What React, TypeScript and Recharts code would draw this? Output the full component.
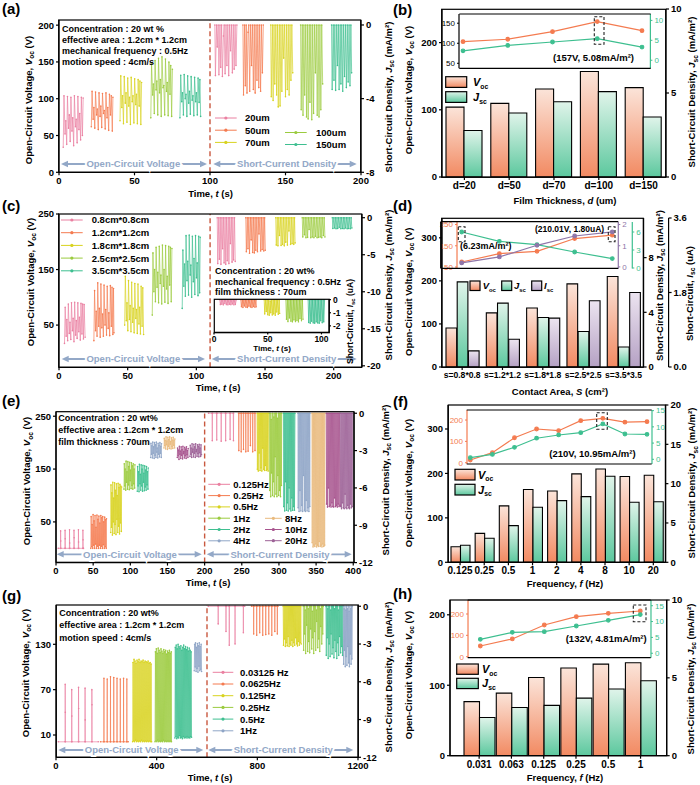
import React from 'react';
import { ComposedChart, LineChart, BarChart, Line, Bar, XAxis, YAxis, ReferenceLine } from 'recharts';

type P = [number, number];
type Box = { l: number; r: number; t: number; b: number };

const PINK = '#ea80a1';
const ORANGE = '#f47b50';
const YELLOW = '#d8d31f';
const GREEN = '#9bcb3f';
const TEAL = '#3ebf90';
const BLUE = '#8fa5c6';
const TAN = '#e9ba7d';
const PLUM = '#a8548e';
const MAUVE = '#9d6297';
const LILAC = '#8f76a9';
const SPLIT = '#c9583f';
const ARROW = '#93a8c7';

// ---------- (a) film thickness: time traces [t (s), value]
const aV20: P[] = [[2.8,34],[3.3,104],[4,52],[4.5,70],[5.1,38],[5.6,103],[6.3,60],[6.8,78],[7.4,42],[7.9,102],[8.6,56],[9.1,74],[9.7,36],[10.2,104],[10.9,62],[11.4,72],[12,40],[12.5,103],[13.2,58],[13.7,80],[14.3,44],[14.8,102],[15.5,50],[16,101]];
const aV50: P[] = [[21.4,62],[21.9,110],[22.6,72],[23.1,88],[23.7,60],[24.2,109],[24.9,78],[25.4,86],[26,58],[26.5,108],[27.2,76],[27.7,90],[28.3,61],[28.8,107],[29.5,80],[30,84],[30.6,59],[31.1,108],[31.8,74],[32.3,88],[32.9,57],[33.4,106],[34.1,78],[34.6,104],[35.3,56],[35.7,102]];
const aV70: P[] = [[40.4,70],[40.9,131],[41.6,88],[42.1,104],[42.7,66],[43.2,130],[43.9,94],[44.4,108],[45,68],[45.5,128],[46.2,90],[46.7,102],[47.3,65],[47.8,129],[48.5,96],[49,104],[49.6,67],[50.1,127],[50.8,92],[51.3,106],[51.9,66],[52.4,126],[53.1,90],[53.6,124],[54.2,65],[54.7,122]];
const aV100: P[] = [[60.8,74],[61.3,148],[62,105],[62.5,120],[63.1,80],[63.6,152],[64.3,112],[64.8,124],[65.4,78],[65.9,155],[66.6,108],[67.1,126],[67.7,76],[68.2,157],[68.9,115],[69.4,118],[70,78],[70.5,154],[71.2,110],[71.7,122],[72.3,77],[72.8,150],[73.5,106],[74,145],[74.6,76],[75.1,140]];
const aV150: P[] = [[80.1,74],[80.6,132],[81.3,96],[81.8,108],[82.4,78],[82.9,133],[83.6,100],[84.1,106],[84.7,76],[85.2,131],[85.9,94],[86.4,110],[87,79],[87.5,130],[88.2,98],[88.7,104],[89.3,77],[89.8,129],[90.5,96],[91,108],[91.6,78],[92.1,128],[92.8,95],[93.3,126],[93.8,76]];
const aJ20: P[] = [[103.2,0],[103.6,-2.75],[104.3,0],[104.8,-1.2],[105.4,0],[105.9,-2.7],[106.6,0],[107.1,-2.3],[107.7,0],[108.2,-2.8],[108.9,-0.6],[109.4,0],[110,-2.65],[110.6,0],[111.2,-2.2],[111.8,0],[112.4,-2.75],[113,0],[113.6,-1.4],[114.2,0],[114.8,-2.6],[115.4,0],[116,-2.4],[116.6,0],[117.2,-2.2],[117.8,0]];
const aJ50: P[] = [[121.8,0],[122.2,-3.8],[122.9,0],[123.4,-3.3],[124,0],[124.5,-3.7],[125.2,-0.4],[125.7,0],[126.3,-3.6],[126.9,0],[127.5,-2.2],[128.1,0],[128.7,-3.5],[129.3,0],[129.9,-3.7],[130.5,0],[131.1,-3],[131.7,0],[132.3,-3.4],[132.9,0],[133.5,-3.6],[134.1,0],[134.7,-2.6],[135.3,0]];
const aJ70: P[] = [[140.2,0],[140.6,-3.9],[141.3,0],[141.8,-4.1],[142.4,0],[142.9,-3.2],[143.6,0],[144.1,-3.8],[144.7,0],[145.2,-4.45],[145.9,0],[146.4,-4.4],[147,0],[147.6,-3.6],[148.2,0],[148.8,-1.8],[149.4,0],[150,-3.9],[150.6,0],[151.2,-3.5],[151.8,0],[152.4,-3.8],[153,0],[153.6,-3],[154.2,0],[154.8,-2.6]];
const aJ100: P[] = [[160,0],[160.4,-4.6],[161.1,0],[161.6,-4.9],[162.2,0],[162.7,-3.8],[163.4,0],[163.9,-5],[164.5,0],[165,-5.1],[165.7,0],[166.2,-4.2],[166.8,0],[167.4,-5.15],[168,0],[168.6,-4.8],[169.2,0],[169.8,-2.6],[170.4,0],[171,-4.9],[171.6,0],[172.2,-5],[172.8,0],[173.4,-4.6],[174,0],[174.6,-3.2]];
const aJ150: P[] = [[180.5,0],[180.9,-3.5],[181.6,0],[182.1,-3],[182.7,0],[183.2,-3.55],[183.9,0],[184.4,-2.2],[185,0],[185.5,-3.5],[186.2,0],[186.7,-3.2],[187.3,0],[187.9,-3.6],[188.5,0],[189.1,-2.8],[189.7,0],[190.3,-3.4],[190.9,0],[191.5,-3.1],[192.1,0],[192.7,-3.3],[193.3,0],[193.8,-2.6]];
const aLabels = ['20um', '50um', '70um', '100um', '150um'];

// ---------- (b) film thickness summary
const thickness = ['d=20', 'd=50', 'd=70', 'd=100', 'd=150'];
const bVoc = [104, 109.5, 131, 157, 133];
const bJsc = [2.77, 3.81, 4.48, 5.08, 3.57];
const bInsetVoc = [104, 110, 129, 154, 131.5];
const bInsetJsc = [2.37, 3.72, 4.58, 5.42, 3.31];

// ---------- (c) contact area: time traces
const cV08: P[] = [[4,17],[4.5,82],[5.2,30],[5.7,60],[6.3,22],[6.8,88],[7.5,35],[8,55],[8.6,24],[9.1,90],[9.8,40],[10.3,62],[10.9,20],[11.4,91],[12.1,32],[12.6,58],[13.2,26],[13.7,90],[14.4,38],[14.9,64],[15.5,23],[16,89],[16.7,34],[17.2,88],[17.8,25],[18.3,87],[19,28]];
const cV12: P[] = [[25.4,22],[25.9,112],[26.6,40],[27.1,75],[27.7,30],[28.2,126],[28.9,48],[29.4,80],[30,28],[30.5,124],[31.2,45],[31.7,70],[32.3,30],[32.8,122],[33.5,50],[34,78],[34.6,32],[35.1,120],[35.8,44],[36.3,72],[36.9,31],[37.4,121],[38.1,48],[38.6,118],[39.2,33],[39.7,116],[40,36]];
const cV18: P[] = [[47.8,50],[48.3,138],[49,58],[49.5,90],[50.1,40],[50.6,130],[51.3,60],[51.8,85],[52.4,38],[52.9,127],[53.6,55],[54.1,80],[54.7,36],[55.2,125],[55.9,62],[56.4,78],[57,35],[57.5,124],[58.2,52],[58.7,82],[59.3,34],[59.8,120],[60.5,48],[61,117],[61.6,33]];
const cV25: P[] = [[67.9,68],[68.4,180],[69.1,110],[69.6,150],[70.2,92],[70.7,190],[71.4,118],[71.9,145],[72.5,90],[73,192],[73.7,125],[74.2,140],[74.8,88],[75.3,194],[76,120],[76.5,150],[77.1,91],[77.6,193],[78.3,115],[78.8,138],[79.4,89],[79.9,192],[80.6,122],[81.1,190],[81.7,92],[82.2,188]];
const cV35: P[] = [[89.7,80],[90.2,185],[90.9,120],[91.4,160],[92,102],[92.5,211],[93.2,130],[93.7,165],[94.3,104],[94.8,212],[95.5,140],[96,158],[96.6,100],[97.1,210],[97.8,128],[98.3,170],[98.9,105],[99.4,211],[100.1,135],[100.6,162],[101.2,103],[101.7,210],[102.4,108],[102.8,208]];
const cJ08: P[] = [[115.2,0],[115.6,-6.2],[116.3,0],[116.8,-5.6],[117.4,0],[117.9,-6.3],[118.6,0],[119.1,-4.2],[119.7,0],[120.2,-6.1],[120.9,0],[121.4,-6.3],[122,0],[122.5,-5.8],[123.2,0],[123.7,-6.2],[124.3,0],[124.8,-3.5],[125.5,0],[126,-6],[126.6,0],[127.1,-5.7],[127.8,0],[128.3,-5.9]];
const cJ12: P[] = [[136,0],[136.4,-4.6],[137.1,0],[137.6,-4.2],[138.2,0],[138.7,-4.8],[139.4,0],[139.9,-3],[140.5,0],[141,-4.7],[141.7,0],[142.2,-4.75],[142.8,0],[143.3,-4.4],[144,0],[144.5,-4.6],[145.1,0],[145.6,-2.2],[146.3,0],[146.8,-4.5],[147.4,0],[147.9,-4.3],[148.6,0],[149.1,-4.5],[149.7,0],[150.2,-4.4]];
const cJ18: P[] = [[157.8,0],[158.2,-3.7],[158.9,0],[159.4,-3.8],[160,0],[160.5,-2.4],[161.2,0],[161.7,-3.75],[162.3,0],[162.8,-3.6],[163.5,0],[164,-3.8],[164.6,0],[165.1,-3.3],[165.8,0],[166.3,-3.7],[166.9,0],[167.4,-1.8],[168.1,0],[168.6,-3.6],[169.2,0],[169.7,-3.5],[170.4,0],[170.9,-3.6],[171.5,0],[171.9,-3.4]];
const cJ25: P[] = [[177.1,0],[177.5,-2.6],[178.2,0],[178.7,-2.3],[179.3,0],[179.8,-2.7],[180.5,0],[181,-2.65],[181.6,0],[182.1,-1.6],[182.8,0],[183.3,-2.7],[183.9,0],[184.4,-2.6],[185.1,0],[185.6,-2.7],[186.2,0],[186.7,-2.5],[187.4,0],[187.9,-2.7],[188.5,0],[189,-2.65],[189.7,0],[190.2,-2.6],[190.8,0],[191.3,-2.7],[192,0],[192.5,-2.4],[193.1,0],[193.6,-2.6]];
const cJ35: P[] = [[199,0],[199.4,-1.45],[200.1,0],[200.6,-1.4],[201.2,0],[201.7,-1.5],[202.4,0],[202.9,-1.45],[203.5,0],[204,-1.3],[204.7,0],[205.2,-1.5],[205.8,0],[206.3,-1.45],[207,0],[207.5,-1.5],[208.1,0],[208.6,-1.4],[209.3,0],[209.8,-1.5],[210.4,0],[210.9,-1.45],[211.6,0],[212.1,-1.5],[212.7,0],[213.2,-1.4]];
const cI08: P[] = [[5.4,0],[5.9,-0.38],[6.8,0],[7.3,-0.35],[8.2,0],[8.7,-0.4],[9.6,0],[10.1,-0.3],[11,0],[11.5,-0.38],[12.4,0],[12.9,-0.4],[13.8,0],[14.3,-0.36],[15.2,0],[15.7,-0.39],[16.6,0],[17.1,-0.33],[18,0],[18.5,-0.4],[19.4,0],[19.9,-0.37],[20.7,0]];
const cI12: P[] = [[25,0],[25.5,-0.55],[26.4,0],[26.9,-0.6],[27.8,0],[28.3,-0.48],[29.2,0],[29.7,-0.58],[30.6,0],[31.1,-0.6],[32,0],[32.5,-0.5],[33.4,0],[33.9,-0.57],[34.8,0],[35.3,-0.6],[36.2,0],[36.7,-0.52],[37.6,0],[38.1,-0.58],[39,0],[39.4,-0.55]];
const cI18: P[] = [[46.7,0],[47.2,-1.1],[48.1,0],[48.6,-0.9],[49.5,0],[50,-1.15],[50.9,0],[51.4,-1.2],[52.3,-0.1],[52.8,-1],[53.7,0],[54.2,-1.18],[55.1,0],[55.6,-1.1],[56.5,0],[57,-1.2],[57.9,0],[58.4,-0.95],[59.3,0],[59.8,-1.12],[60.7,0],[61.1,-1.05]];
const cI25: P[] = [[66.9,0],[67.4,-1.5],[68.3,0],[68.8,-1.68],[69.7,0],[70.2,-1.4],[71.1,0],[71.6,-1.65],[72.5,0],[73,-1.7],[73.9,0],[74.4,-1.55],[75.3,0],[75.8,-1.68],[76.7,0],[77.2,-1.6],[78.1,0],[78.6,-1.7],[79.5,0],[80,-1.45],[80.9,0],[81.4,-1.62],[82.3,0],[82.8,-1.5]];
const cI35: P[] = [[87.6,0],[88.1,-1.75],[89,0],[89.5,-1.8],[90.4,0],[90.9,-1.65],[91.8,0],[92.3,-1.78],[93.2,0],[93.7,-1.8],[94.6,0],[95.1,-1.7],[96,0],[96.5,-1.78],[97.4,0],[97.9,-1.8],[98.8,0],[99.3,-1.62],[100.2,0],[100.7,-1.76],[101.6,0],[102.1,-1.7],[102.9,0]];
const cLabels = ['0.8cm*0.8cm', '1.2cm*1.2cm', '1.8cm*1.8cm', '2.5cm*2.5cm', '3.5cm*3.5cm'];

// ---------- (d) contact area summary
const areas = ['s=0.8*0.8', 's=1.2*1.2', 's=1.8*1.8', 's=2.5*2.5', 's=3.5*3.5'];
const dVoc = [90.7, 125.6, 137, 193, 210];
const dJsc = [6.23, 4.67, 3.62, 2.6, 1.46];
const dIsc = [0.39, 0.67, 1.18, 1.6, 1.8];
const dInsetVoc = [73.6, 113, 124, 184, 200];
const dInsetJsc = [6.0, 4.45, 3.9, 2.67, 1.57];
const dInsetIsc = [0.19, 0.47, 1.02, 1.46, 1.65];

// ---------- (e) mechanical frequency: time traces
const eV0125: P[] = [[3,0],[6,0],[6.2,33],[6.4,14],[6.6,0],[12,0],[12.2,34],[12.4,18],[12.6,0],[18,0],[18.2,35],[18.4,10],[18.6,0],[24,0],[24.2,34],[24.4,20],[24.6,0],[30,0],[30.2,35],[30.4,12],[30.6,0],[36,0],[36.2,34],[36.4,16],[36.6,0],[37,0]];
const eV025: P[] = [[46.8,0],[47.3,60],[48.1,3],[48.6,45],[49.4,0],[49.9,64],[50.7,6],[51.2,52],[52,0],[52.5,62],[53.3,8],[53.8,40],[54.6,0],[55.1,63],[55.9,4],[56.4,55],[57.2,0],[57.7,61],[58.5,6],[59,48],[59.8,0],[60.3,62],[61.1,4],[61.6,58],[62.4,0],[62.9,60],[63.7,7],[64.2,50],[65,0],[65.5,59],[66.3,3],[66.8,54],[67.6,0],[67.9,56]];
const eV05: P[] = [[73.6,30],[74,120],[74.7,40],[75.2,105],[75.9,25],[76.4,125],[77.1,50],[77.6,95],[78.3,28],[78.8,124],[79.5,45],[80,110],[80.7,26],[81.2,122],[81.9,55],[82.4,100],[83.1,30],[83.6,123],[84.3,42],[84.8,115],[85.5,27],[86,121],[86.7,48],[87.2,118],[87.9,32],[88.3,116]];
const eV1: P[] = [[91.5,112],[91.9,160],[92.6,118],[93.1,150],[93.8,110],[94.3,165],[95,125],[95.5,145],[96.2,112],[96.7,164],[97.4,120],[97.9,155],[98.6,111],[99.1,163],[99.8,128],[100.3,148],[101,113],[101.5,162],[102.2,119],[102.7,156],[103.4,112],[103.9,160],[104.6,122],[105.1,150],[105.8,114],[106.2,158]];
const eV2: P[] = [[109.4,108],[109.8,155],[110.5,118],[111,145],[111.7,107],[112.2,159],[112.9,122],[113.4,140],[114.1,110],[114.6,158],[115.3,118],[115.8,150],[116.5,108],[117,157],[117.7,125],[118.2,142],[118.9,109],[119.4,156],[120.1,116],[120.6,148],[121.3,110],[121.8,155],[122.5,120],[123,145],[123.7,112],[124.1,152]];
const eV4: P[] = [[127.4,172],[127.8,199],[128.5,178],[129,194],[129.7,171],[130.2,201],[130.9,180],[131.4,192],[132.1,170],[132.6,200],[133.3,176],[133.8,196],[134.5,172],[135,201],[135.7,182],[136.2,190],[136.9,171],[137.4,199],[138.1,178],[138.6,195],[139.3,173],[139.8,200],[140.5,180],[141,193],[141.7,172],[142,198]];
const eV8: P[] = [[145.3,190],[145.7,208],[146.4,194],[146.9,204],[147.6,188],[148.1,211],[148.8,196],[149.3,203],[150,187],[150.5,210],[151.2,193],[151.7,206],[152.4,189],[152.9,211],[153.6,197],[154.1,202],[154.8,188],[155.3,209],[156,192],[156.5,205],[157.2,189],[157.7,210],[158.4,195],[158.9,204],[159.6,190],[159.9,207]];
const eV10: P[] = [[163.2,172],[163.6,190],[164.3,175],[164.8,186],[165.5,168],[166,193],[166.7,178],[167.2,184],[167.9,170],[168.4,192],[169.1,176],[169.6,187],[170.3,169],[170.8,193],[171.5,179],[172,183],[172.7,171],[173.2,191],[173.9,175],[174.4,188],[175.1,170],[175.6,192],[176.3,177],[176.8,185],[177.5,172],[177.9,189]];
const eV20: P[] = [[180.3,174],[180.7,195],[181.4,178],[181.9,190],[182.6,172],[183.1,198],[183.8,182],[184.3,188],[185,173],[185.5,197],[186.2,180],[186.7,192],[187.4,172],[187.9,198],[188.6,183],[189.1,187],[189.8,174],[190.3,196],[191,179],[191.5,193],[192.2,173],[192.7,197],[193.4,181],[193.9,190],[194.6,174],[195.1,196],[195.8,177]];
const eJ0125: P[] = [[205.2,0],[210,0],[210.3,-2.2],[210.6,0],[216,0],[216.3,-2.15],[216.6,0],[222,0],[222.3,-2.25],[222.6,0],[228,0],[228.3,-2.2],[228.6,0],[234,0],[234.3,-2.1],[234.6,0],[238.5,0],[238.8,-2.2],[239,0]];
const eJ025: P[] = [[245.6,0],[246,-3],[246.4,0],[248.8,0],[249.2,-3.1],[249.6,0],[251.9,0],[252.3,-2.9],[252.7,0],[255,0],[255.4,-3.1],[255.8,0],[258.1,0],[258.5,-3.05],[258.9,0],[261.2,0],[261.6,-2.6],[262,0],[264.3,0],[264.7,-3.1],[265.1,0],[267.4,0],[267.8,-3],[268,0]];
const eJ05: P[] = [[270.6,0],[271,-4.5],[271.7,0],[272.2,-4.65],[272.9,0],[273.4,-3.2],[274.1,0],[274.6,-4.6],[275.3,0],[275.8,-4.4],[276.5,0],[277,-4.65],[277.7,0],[278.2,-2.8],[278.9,0],[279.4,-4.5],[280.1,0],[280.6,-4.6],[281.3,0],[281.8,-4.2],[282.5,0],[283,-4.6],[283.7,0],[284.2,-4.5],[284.9,0],[285.4,-4.65],[286,0]];
const eJ1: P[] = [[287.3,0],[287.7,-6.2],[288.4,0],[288.9,-6.7],[289.6,-0.5],[290.1,-4.8],[290.8,0],[291.3,-6.6],[292,0],[292.5,-5.5],[293.2,-0.3],[293.7,-6.7],[294.4,0],[294.9,-3.5],[295.6,0],[296.1,-6.5],[296.8,0],[297.3,-6.7],[298,-0.4],[298.5,-5],[299.2,0],[299.7,-6.6],[300.4,0],[300.9,-6.2],[301.6,0],[302.1,-6.7],[302.8,0],[303.3,-5.8],[303.8,0]];
const eJ2: P[] = [[306.1,0],[306.5,-7.5],[307.2,0],[307.7,-7.86],[308.4,0],[308.9,-5.5],[309.6,0],[310.1,-7.8],[310.8,0],[311.3,-7.2],[312,0],[312.5,-7.86],[313.2,0],[313.7,-6],[314.4,0],[314.9,-7.7],[315.6,0],[316.1,-7.86],[316.8,0],[317.3,-6.8],[318,0],[318.5,-7.8],[319.2,0],[319.7,-7.5],[320.4,0],[320.9,-7.8],[321.6,0]];
const eJ4: P[] = [[325.5,0],[325.9,-7.6],[326.6,0],[327.1,-7.9],[327.8,0],[328.3,-6.2],[329,0],[329.5,-7.85],[330.2,0],[330.7,-7.4],[331.4,0],[331.9,-7.9],[332.6,0],[333.1,-5],[333.8,0],[334.3,-7.8],[335,0],[335.5,-7.9],[336.2,0],[336.7,-7],[337.4,0],[337.9,-7.85],[338.6,0],[339.1,-7.6],[339.8,0],[340.3,-7.9],[341,0],[341.5,-7.5],[341.9,0]];
const eJ8: P[] = [[344.3,0],[344.7,-10.4],[345.4,0],[345.9,-10.75],[346.6,0],[347.1,-10.6],[347.8,0],[348.3,-10.7],[349,0],[349.5,-10.5],[350.2,0],[350.7,-10.75],[351.4,0],[351.9,-10.6],[352.6,0],[353.1,-10.7],[353.8,0],[354.3,-10.3],[355,0],[355.5,-10.7],[356.2,0],[356.7,-10.6],[357.4,0],[357.9,-10.75],[358.6,0],[359.1,-10.5],[359.8,0],[360.3,-10.7],[361,0],[361.5,-10.6],[362.1,0]];
const eJ10: P[] = [[363.7,0],[364.1,-7.3],[364.8,0],[365.3,-7.54],[366,0],[366.5,-6],[367.2,0],[367.7,-7.5],[368.4,0],[368.9,-7.4],[369.6,0],[370.1,-7.54],[370.8,0],[371.3,-7.2],[372,0],[372.5,-7.5],[373.2,0],[373.7,-7.54],[374.4,0],[374.9,-6.8],[375.6,0],[376.1,-7.5],[376.8,0],[377.3,-7.4],[378,0],[378.5,-7.54],[379.2,0],[379.7,-7.3],[380.4,0],[380.9,-7.5],[381.6,0],[382.1,-7.4]];
const eJ20: P[] = [[382.6,0],[383,-7.5],[383.7,0],[384.2,-7.67],[384.9,0],[385.4,-7.2],[386.1,0],[386.6,-7.6],[387.3,0],[387.8,-7.67],[388.5,0],[389,-6.5],[389.7,0],[390.2,-7.6],[390.9,0],[391.4,-7.67],[392.1,0],[392.6,-7.4],[393.3,0],[393.8,-7.6],[394.5,0],[395,-7.67],[395.7,0],[396.2,-7.3],[396.9,0],[397.4,-7.6],[398.1,0],[398.6,-7.5],[399.3,0]];
const eLabels = ['0.125Hz', '0.25Hz', '0.5Hz', '1Hz', '2Hz', '4Hz', '8Hz', '10Hz', '20Hz'];

// ---------- (f) mechanical frequency summary
const freqs = ['0.125', '0.25', '0.5', '1', '2', '4', '8', '10', '20'];
const fVoc = [35, 65, 127, 164, 160.6, 199, 210, 193, 196];
const fJsc = [2.16, 3.05, 4.66, 7.0, 7.84, 8.35, 10.95, 7.63, 7.7];
const fInsetVoc = [12.7, 47, 117, 158, 150, 197, 208, 190, 192.5];
const fInsetJsc = [0.5, 1.5, 3.7, 6.5, 7.5, 8.2, 10.9, 7.8, 7.7];

// ---------- (g) motion frequency: time traces
const gV03: P[] = [[9.3,1],[36,1],[36.5,77],[37,40],[37.5,1],[62,1],[62.5,70],[63,35],[63.5,1],[89,1],[89.5,73],[90,45],[90.5,1],[115,1],[115.5,72],[116,30],[116.5,1],[142,1],[142.5,70],[143,50],[143.5,1],[168,1]];
const gV06: P[] = [[177,1],[190,1],[190.5,85],[191,1],[203,1],[203.5,84],[204,1],[216,1],[216.5,87],[217,1],[229,1],[229.5,86],[230,1],[242,1],[242.5,85],[243,1],[255,1],[255.5,84],[256,1],[268,1],[268.5,85],[269,1],[281,1],[281.5,84],[282,1],[287,1]];
const gV0125: P[] = [[304.5,1],[306,106],[308.5,2],[310,110],[312.5,1],[314,108],[316.5,3],[318,105],[320.5,1],[322,109],[324.5,2],[326,107],[328.5,1],[330,110],[332.5,2],[334,106],[336.5,1],[338,108],[340.5,3],[342,107],[344.5,1],[346,109],[348.5,2],[350,106],[352.5,1],[354,108],[356.5,2],[358,107],[360.5,1],[362,106],[364.5,2],[366,108],[368.5,1],[370,105],[372.5,2],[374,106],[376.5,1],[378,104],[379.8,1]];
const gV025: P[] = [[393.5,1],[395,120],[397.2,2],[398.7,124],[400.9,1],[402.4,118],[404.6,3],[406.1,125],[408.3,1],[409.8,122],[412,2],[413.5,119],[415.7,1],[417.2,124],[419.4,2],[420.9,121],[423.1,1],[424.6,118],[426.8,3],[428.3,123],[430.5,1],[432,120],[434.2,2],[435.7,122],[437.9,1],[439.4,117],[441.6,2],[443.1,121],[445.3,1],[446.8,119],[449,2],[450.5,122],[452.7,1],[454.2,118],[456.4,2],[457.9,120],[458.8,1]];
const gV05: P[] = [[472.5,6],[474,126],[476.2,8],[477.7,129],[479.9,5],[481.4,124],[483.6,7],[485.1,130],[487.3,6],[488.8,127],[491,9],[492.5,125],[494.7,6],[496.2,128],[498.4,7],[499.9,122],[502.1,5],[503.6,126],[505.8,8],[507.3,129],[509.5,6],[511,124],[513.2,7],[514.7,127],[516.9,6],[518.4,123],[520.6,8],[522.1,126],[524.3,6],[525.8,121],[528,7],[529.5,125],[531.7,6],[533.2,122],[535.4,8],[536.9,120],[538.6,7]];
const gV1: P[] = [[549.3,95],[550.8,130],[553,100],[554.5,132],[556.7,94],[558.2,126],[560.4,98],[561.9,131],[564.1,93],[565.6,128],[567.8,101],[569.3,132],[571.5,95],[573,127],[575.2,97],[576.7,130],[578.5,94]];
const gJ03: P[] = [[605,0],[644,0],[644.5,-1.4],[645,0],[675,0],[675.5,-2],[676,0],[688,0],[688.5,-3.1],[689,0],[711,0],[711.5,-3],[712,0],[744,0],[744.5,-2.1],[745,0],[750,0]];
const gJ06: P[] = [[777,0],[785,0],[785.5,-2.2],[786,0],[797,0],[797.5,-2.3],[798,0],[809,0],[809.5,-2.1],[810,0],[821,0],[821.5,-2.3],[822,0],[833,0],[833.5,-2.25],[834,0],[845,0],[845.5,-2.2],[846,0],[857,0],[857.5,-2.3],[858,0],[869,0],[869.5,-2],[870,0],[879,0],[879.5,-2.2],[880,0],[882,0]];
const gJ0125: P[] = [[902.5,0],[904,-3.1],[906.2,0],[907.7,-2.6],[909.9,0],[911.4,-3.2],[913.6,0],[915.1,-2.9],[917.3,0],[918.8,-3.15],[921,0],[922.5,-2.4],[924.7,0],[926.2,-3.2],[928.4,0],[929.9,-3],[932.1,0],[933.6,-3.1],[935.8,0],[937.3,-2.7],[939.5,0],[941,-3.2],[943.2,0],[944.7,-2.9],[946.9,0],[948.4,-3.1],[950.6,0],[952.1,-2.5],[954.3,0],[955.8,-3],[958,0],[959.5,-3.15],[961.7,0],[963.2,-2.8],[965.4,0],[966.9,-3.1],[969.1,0],[970.6,-2.9],[972.8,0],[974.3,-3]];
const gJ025: P[] = [[982.5,0],[984,-3.5],[986.5,0],[988,-2.2],[990.5,-0.3],[992,-3.75],[994.5,0],[996,-1.5],[998.5,0],[1000,-3.6],[1002.5,-0.2],[1004,-2.8],[1006.5,0],[1008,-3.7],[1010.5,0],[1012,-1.8],[1014.5,0],[1016,-3.4],[1018.5,-0.4],[1020,-2.5],[1022.5,0],[1024,-3.75],[1026.5,0],[1028,-2],[1030.5,0],[1032,-3.5],[1034.5,-0.3],[1036,-1.2],[1038.5,0],[1040,-3.3],[1042.5,0],[1044,-2.6],[1046.5,0],[1048,-3.6],[1050.5,-0.2],[1052,-1.6],[1054.5,0],[1056,-3],[1058.5,0],[1060,-2.2],[1061.8,0]];
const gJ05: P[] = [[1072.5,0],[1074,-3.9],[1076.3,0],[1077.8,-2.5],[1080.1,-0.2],[1081.6,-4.15],[1083.9,0],[1085.4,-3],[1087.7,0],[1089.2,-4],[1091.5,-0.3],[1093,-2.2],[1095.3,0],[1096.8,-3.8],[1099.1,0],[1100.6,-3.3],[1102.9,0],[1104.4,-4.1],[1106.7,-0.2],[1108.2,-2.7],[1110.5,0],[1112,-3.6],[1114.3,0],[1115.8,-4.15],[1118.1,0],[1119.6,-2.9],[1121.9,-0.3],[1123.4,-3.9],[1125.7,0],[1127.2,-2.4],[1129.5,0],[1131,-3.7],[1133.3,0],[1134.8,-3.2],[1137.1,0],[1138.6,-3.9],[1140.7,0]];
const gJ1: P[] = [[1141.5,0],[1142.8,-4.6],[1144.8,-0.2],[1146.1,-3.5],[1148.1,0],[1149.4,-4.8],[1151.4,-0.3],[1152.7,-4],[1154.7,0],[1156,-4.7],[1158,-0.2],[1159.3,-3.2],[1161.3,0],[1162.6,-4.5],[1164.6,-0.4],[1165.9,-4.8],[1167.9,0],[1169.2,-3.8],[1171.2,-0.2],[1172.5,-4.6],[1174.5,0],[1175.8,-4.2],[1177.6,0]];
const gLabels = ['0.03125 Hz', '0.0625Hz', '0.125Hz', '0.25Hz', '0.5Hz', '1Hz'];

// ---------- (h) motion frequency summary
const slowFreqs = ['0.031', '0.063', '0.125', '0.25', '0.5', '1'];
const hVoc = [76.8, 88.8, 111, 124.4, 130, 132];
const hJsc = [2.45, 3.1, 3.23, 3.7, 4.28, 4.81];
const hInsetVoc = [50, 83, 148.5, 187.5, 203, 214];
const hInsetJsc = [4.4, 6.6, 6.8, 8.6, 10.4, 12.2];

// ---------- layout
const M = 6;
const TICK = { fontSize: 9.5, fontWeight: 700, fill: '#000' };
const AX = { stroke: '#000', strokeWidth: 1.2 };

const boxA: Box = { l: 58.7, r: 360.7, t: 20, b: 172.3 };
const boxB: Box = { l: 441.7, r: 665.7, t: 9.3, b: 177.3 };
const boxC: Box = { l: 58.7, r: 361.7, t: 214, b: 367.3 };
const boxCi: Box = { l: 214.3, r: 329.3, t: 299.3, b: 332.7 };
const boxD: Box = { l: 441.7, r: 643.3, t: 218.3, b: 367.3 };
const boxE: Box = { l: 56, r: 354, t: 411.7, b: 562.3 };
const boxF: Box = { l: 448.3, r: 665.7, t: 405, b: 562.3 };
const boxG: Box = { l: 56.3, r: 358.3, t: 605, b: 757.3 };
const boxH: Box = { l: 450, r: 666.7, t: 600, b: 755.7 };
const boxBi: Box = { l: 459.3, r: 650.7, t: 14, b: 68.3 };
const boxDi: Box = { l: 457, r: 618.3, t: 221.7, b: 268.3 };
const boxFi: Box = { l: 466.7, r: 651.7, t: 410, b: 464 };
const boxHi: Box = { l: 467.7, r: 650.7, t: 600, b: 657.7 };

function place(box: Box, wl: number, wr: number, xh: number) {
  return {
    style: { position: 'absolute' as const, left: box.l - wl - M, top: box.t - M },
    width: box.r - box.l + wl + wr + 2 * M,
    height: box.b - box.t + xh + 2 * M,
  };
}

type Trace = { pts: P[]; color: string; axis: string };

function Wave({ box, xDom, xTicks, lDom, lTicks, rDom, rTicks, traces, split }: any) {
  const p = place(box, 30, 26, 14);
  return (
    <div style={p.style}>
      <ComposedChart width={p.width} height={p.height} margin={{ top: M, right: M, bottom: M, left: M }}>
        <XAxis type="number" dataKey="x" domain={xDom} ticks={xTicks} allowDataOverflow height={14} interval={0}
          tick={TICK} tickSize={3} axisLine={AX} tickLine={AX} />
        <YAxis yAxisId="L" type="number" domain={lDom} ticks={lTicks} allowDataOverflow width={30} interval={0}
          tick={TICK} tickSize={3} axisLine={AX} tickLine={AX} />
        <YAxis yAxisId="R" orientation="right" type="number" domain={rDom} ticks={rTicks} allowDataOverflow width={26}
          interval={0} tick={TICK} tickSize={3} axisLine={AX} tickLine={AX} />
        <ReferenceLine yAxisId="L" x={split} stroke={SPLIT} strokeDasharray="5 3" strokeWidth={1.4} />
        {traces.map((s: Trace, i: number) => (
          <Line key={i} yAxisId={s.axis} data={s.pts.map(([x, y]) => ({ x, y }))} dataKey="y" type="linear"
            stroke={s.color} strokeWidth={0.8} strokeOpacity={0.85} dot={{ r: 0.8, fill: s.color, stroke: 'none' }}
            activeDot={false} isAnimationActive={false} />
        ))}
      </ComposedChart>
    </div>
  );
}

function CurrentInset({ traces }: any) {
  const p = place(boxCi, 0, 14, 12);
  const t = { fontSize: 8.5, fontWeight: 700, fill: '#000' };
  return (
    <div style={p.style}>
      <ComposedChart width={p.width} height={p.height} margin={{ top: M, right: M, bottom: M, left: M }}>
        <XAxis type="number" dataKey="x" domain={[0, 107]} ticks={[0, 50, 100]} allowDataOverflow height={12}
          interval={0} tick={t} tickSize={2} axisLine={AX} tickLine={AX} />
        <YAxis yAxisId="R" orientation="right" type="number" domain={[-2.5, 0.05]} ticks={[0, -1, -2]}
          allowDataOverflow width={14} interval={0} tick={t} tickSize={2} axisLine={AX} tickLine={AX} />
        {traces.map((s: Trace, i: number) => (
          <Line key={i} yAxisId="R" data={s.pts.map(([x, y]) => ({ x, y }))} dataKey="y" stroke={s.color}
            strokeWidth={0.8} dot={{ r: 0.7, fill: s.color, stroke: 'none' }} activeDot={false}
            isAnimationActive={false} />
        ))}
      </ComposedChart>
    </div>
  );
}

function Bars({ box, names, voc, jsc, isc, lDom, lTicks, rDom, rTicks, barSize, barGap = 0, pad, xFont = 9.5 }: any) {
  const wl = 30;
  const wr = isc ? 47 : 26;
  const p = place(box, wl, wr, 16);
  const rows = names.map((name: string, i: number) => ({ name, voc: voc[i], jsc: jsc[i], isc: isc ? isc[i] : 0 }));
  return (
    <div style={p.style}>
      <BarChart width={p.width} height={p.height} data={rows} margin={{ top: M, right: M, bottom: M, left: M }}
        barSize={barSize} barGap={barGap}>
        <XAxis dataKey="name" interval={0} padding={pad || { left: 0, right: 0 }} height={16}
          tick={{ ...TICK, fontSize: xFont }} tickSize={3} axisLine={AX} tickLine={AX} />
        <YAxis yAxisId="L" domain={lDom} ticks={lTicks} allowDataOverflow width={wl} interval={0}
          tick={TICK} tickSize={3} axisLine={AX} tickLine={AX} />
        <YAxis yAxisId="R" orientation="right" domain={rDom} ticks={rTicks} allowDataOverflow width={isc ? 25 : wr}
          interval={0} tick={TICK} tickSize={3} axisLine={AX} tickLine={AX} />
        {isc && (
          <YAxis yAxisId="T" orientation="right" domain={[0, 3.6]} ticks={[0, 1.8, 3.6]} allowDataOverflow width={22}
            interval={0} tickFormatter={(v: number) => v.toFixed(1)} tick={TICK} tickSize={3} axisLine={AX} tickLine={AX} />
        )}
        <Bar yAxisId="L" dataKey="voc" fill="url(#gradVoc)" stroke="#000" strokeWidth={1.1} isAnimationActive={false} />
        <Bar yAxisId="R" dataKey="jsc" fill="url(#gradJsc)" stroke="#000" strokeWidth={1.1} isAnimationActive={false} />
        {isc && <Bar yAxisId="T" dataKey="isc" fill="url(#gradIsc)" stroke="#000" strokeWidth={1.1} isAnimationActive={false} />}
      </BarChart>
    </div>
  );
}

type InsetAxis = { id: string; side: 'left' | 'right'; dom: number[]; ticks: number[]; color: string; width: number };
type InsetLine = { values: number[]; color: string; axis: string };

function Inset({ box, names, lines, axes, pad }: { box: Box; names: string[]; lines: InsetLine[]; axes: InsetAxis[]; pad: any }) {
  const wl = axes.filter((a) => a.side === 'left').reduce((s, a) => s + a.width, 0);
  const wr = axes.filter((a) => a.side === 'right').reduce((s, a) => s + a.width, 0);
  const p = place(box, wl, wr, 0);
  const rows = names.map((name, i) => {
    const row: any = { name };
    lines.forEach((ln, k) => (row['s' + k] = ln.values[i]));
    return row;
  });
  return (
    <div style={p.style}>
      <LineChart width={p.width} height={p.height} data={rows} margin={{ top: M, right: M, bottom: M, left: M }}>
        <XAxis dataKey="name" hide padding={pad} />
        {axes.map((a) => (
          <YAxis key={a.id} yAxisId={a.id} orientation={a.side} domain={a.dom} ticks={a.ticks} allowDataOverflow
            width={a.width} interval={0} tick={{ fontSize: 8, fill: a.color }} tickSize={2}
            axisLine={{ stroke: a.color, strokeWidth: 1.2 }} tickLine={{ stroke: a.color }} />
        ))}
        {lines.map((ln, k) => (
          <Line key={k} yAxisId={ln.axis} dataKey={'s' + k} stroke={ln.color} strokeWidth={1.2}
            dot={{ r: 1.8, fill: ln.color, stroke: ln.color }} activeDot={false} isAnimationActive={false} />
        ))}
      </LineChart>
    </div>
  );
}

// ---------- text helpers (overlay)
function Sym({ pre, s, sub, post, fs }: any) {
  return (
    <>
      {pre}
      <tspan fontStyle="italic">{s}</tspan>
      {sub ? <tspan fontSize={fs * 0.7} dy={fs * 0.28}>{sub}</tspan> : null}
      <tspan dy={sub ? -fs * 0.28 : 0}>{post}</tspan>
    </>
  );
}

function VTitle({ x, y, children }: any) {
  return (
    <text x={x} y={y} transform={`rotate(-90 ${x} ${y})`} textAnchor="middle" fontSize={9.5} fontWeight={700} fill="#000">
      {children}
    </text>
  );
}

function HTitle({ x, y, children }: any) {
  return (
    <text x={x} y={y} textAnchor="middle" fontSize={9.5} fontWeight={700} fill="#000">
      {children}
    </text>
  );
}

function Arrow({ x1, x2, y, cx, label }: any) {
  return (
    <g>
      <line x1={x1 + 4} x2={x2 - 4} y1={y} y2={y} stroke={ARROW} strokeWidth={1.8} />
      <polygon points={`${x1},${y} ${x1 + 7},${y - 3.2} ${x1 + 7},${y + 3.2}`} fill={ARROW} />
      <polygon points={`${x2},${y} ${x2 - 7},${y - 3.2} ${x2 - 7},${y + 3.2}`} fill={ARROW} />
      <text x={cx} y={y + 3.4} textAnchor="middle" fontSize={9.5} fontWeight={700} fill={ARROW}
        stroke="#fff" strokeWidth={4} paintOrder="stroke">{label}</text>
    </g>
  );
}

function LegendRow({ x, y, w, color, label, tx }: any) {
  return (
    <g>
      <line x1={x} x2={x + w} y1={y} y2={y} stroke={color} strokeWidth={1} />
      <circle cx={x + w / 2} cy={y} r={1.6} fill={color} />
      <text x={tx} y={y + 3.4} fontSize={9.5} fontWeight={700} fill="#000">{label}</text>
    </g>
  );
}

function BarKey({ x, y, w, h, grad, s, sub, tx, fs = 11 }: any) {
  return (
    <g>
      <rect x={x} y={y} width={w} height={h} fill={`url(#${grad})`} stroke="#000" strokeWidth={1.2} />
      <text x={tx} y={y + h / 2 + fs * 0.36} fontSize={fs} fontWeight={700} fill="#000">
        <tspan fontStyle="italic">{s}</tspan>
        <tspan fontSize={fs * 0.62} dy={fs * 0.25}>{sub}</tspan>
      </text>
    </g>
  );
}

function Notes({ x, ys, lines }: any) {
  return (
    <g>
      {lines.map((t: string, i: number) => (
        <text key={i} x={x} y={ys[i]} fontSize={9} fontWeight={700} fill="#000">{t}</text>
      ))}
    </g>
  );
}

const frameRect = (b: Box, k: string) => (
  <rect key={k} x={b.l} y={b.t} width={b.r - b.l} height={b.b - b.t} fill="none" stroke="#000" strokeWidth={1.2} />
);
const hLine = (x1: number, x2: number, y: number, k: string) => (
  <line key={k} x1={x1} x2={x2} y1={y} y2={y} stroke="#000" strokeWidth={1.2} />
);
const dashBox = (x: number, y: number, w: number, h: number, k: string) => (
  <rect key={k} x={x} y={y} width={w} height={h} fill="none" stroke="#222" strokeWidth={1.1} strokeDasharray="3 2" />
);

const VOC_TITLE = <Sym pre="Open-Circuit Voltage, " s="V" sub="oc" post=" (V)" fs={9.5} />;
const JSC_TITLE = <Sym pre="Short-Circuit Density, " s="J" sub="sc" post=" (mA/m²)" fs={9.5} />;

export default function App() {
  const aTraces: Trace[] = [
    { pts: aV20, color: PINK, axis: 'L' }, { pts: aV50, color: ORANGE, axis: 'L' }, { pts: aV70, color: YELLOW, axis: 'L' },
    { pts: aV100, color: GREEN, axis: 'L' }, { pts: aV150, color: TEAL, axis: 'L' },
    { pts: aJ20, color: PINK, axis: 'R' }, { pts: aJ50, color: ORANGE, axis: 'R' }, { pts: aJ70, color: YELLOW, axis: 'R' },
    { pts: aJ100, color: GREEN, axis: 'R' }, { pts: aJ150, color: TEAL, axis: 'R' },
  ];
  const cTraces: Trace[] = [
    { pts: cV08, color: PINK, axis: 'L' }, { pts: cV12, color: ORANGE, axis: 'L' }, { pts: cV18, color: YELLOW, axis: 'L' },
    { pts: cV25, color: GREEN, axis: 'L' }, { pts: cV35, color: TEAL, axis: 'L' },
    { pts: cJ08, color: PINK, axis: 'R' }, { pts: cJ12, color: ORANGE, axis: 'R' }, { pts: cJ18, color: YELLOW, axis: 'R' },
    { pts: cJ25, color: GREEN, axis: 'R' }, { pts: cJ35, color: TEAL, axis: 'R' },
  ];
  const ciTraces: Trace[] = [
    { pts: cI08, color: PINK, axis: 'R' }, { pts: cI12, color: ORANGE, axis: 'R' }, { pts: cI18, color: YELLOW, axis: 'R' },
    { pts: cI25, color: GREEN, axis: 'R' }, { pts: cI35, color: TEAL, axis: 'R' },
  ];
  const eColors = [PINK, ORANGE, YELLOW, GREEN, TEAL, BLUE, TAN, PLUM, MAUVE];
  const eV = [eV0125, eV025, eV05, eV1, eV2, eV4, eV8, eV10, eV20];
  const eJ = [eJ0125, eJ025, eJ05, eJ1, eJ2, eJ4, eJ8, eJ10, eJ20];
  const eTraces: Trace[] = [
    ...eV.map((pts, i) => ({ pts, color: eColors[i], axis: 'L' })),
    ...eJ.map((pts, i) => ({ pts, color: eColors[i], axis: 'R' })),
  ];
  const gColors = [PINK, ORANGE, YELLOW, GREEN, TEAL, BLUE];
  const gV = [gV03, gV06, gV0125, gV025, gV05, gV1];
  const gJ = [gJ03, gJ06, gJ0125, gJ025, gJ05, gJ1];
  const gTraces: Trace[] = [
    ...gV.map((pts, i) => ({ pts, color: gColors[i], axis: 'L' })),
    ...gJ.map((pts, i) => ({ pts, color: gColors[i], axis: 'R' })),
  ];

  return (
    <div style={{ position: 'relative', width: 700, height: 785, background: '#fff', overflow: 'hidden',
      fontFamily: '"Liberation Sans", Arial, sans-serif' }}>
      <style>{'body{margin:0}'}</style>
      <svg width={0} height={0} style={{ position: 'absolute' }}>
        <defs>
          <linearGradient id="gradVoc" x1="0" y1="0" x2="0" y2="1">
            <stop offset="0%" stopColor="#fbe4d9" />
            <stop offset="100%" stopColor="#f28a62" />
          </linearGradient>
          <linearGradient id="gradJsc" x1="0" y1="0" x2="0" y2="1">
            <stop offset="0%" stopColor="#e0f4ea" />
            <stop offset="100%" stopColor="#5cc89e" />
          </linearGradient>
          <linearGradient id="gradIsc" x1="0" y1="0" x2="0" y2="1">
            <stop offset="0%" stopColor="#ece4f0" />
            <stop offset="100%" stopColor="#b5a1c4" />
          </linearGradient>
        </defs>
      </svg>

      <Wave box={boxA} xDom={[0, 200]} xTicks={[0, 50, 100, 150, 200]} lDom={[0, 207]} lTicks={[0, 50, 100, 150, 200]}
        rDom={[-8, 0.27]} rTicks={[0, -4, -8]} traces={aTraces} split={100} />
      <Bars box={boxB} names={thickness} voc={bVoc} jsc={bJsc} lDom={[0, 250]} lTicks={[0, 100, 200]} rDom={[0, 10]}
        rTicks={[0, 5, 10]} barSize={18} xFont={10} />
      <Inset box={boxBi} names={thickness} pad={{ left: 4, right: 8.4 }}
        lines={[{ values: bInsetVoc, color: ORANGE, axis: 'L' }, { values: bInsetJsc, color: TEAL, axis: 'R' }]}
        axes={[{ id: 'L', side: 'left', dom: [37.5, 173], ticks: [50, 100, 150], color: '#000', width: 18 },
          { id: 'R', side: 'right', dom: [-2.02, 11.6], ticks: [0, 5, 10], color: TEAL, width: 14 }]} />

      <Wave box={boxC} xDom={[0, 220.6]} xTicks={[0, 50, 100, 150, 200]} lDom={[-26, 250]} lTicks={[50, 150, 250]}
        rDom={[-20.2, 0.5]} rTicks={[0, -5, -10, -15, -20]} traces={cTraces} split={110} />
      <CurrentInset traces={ciTraces} />
      <Bars box={boxD} names={areas} voc={dVoc} jsc={dJsc} isc={dIsc} lDom={[0, 346]} lTicks={[0, 100, 200, 300]}
        rDom={[0, 10.9]} rTicks={[0, 4, 8]} barSize={10.7} barGap={0.5} xFont={8.6} />
      <Inset box={boxDi} names={areas} pad={{ left: 4.7, right: 6 }}
        lines={[{ values: dInsetVoc, color: ORANGE, axis: 'L' }, { values: dInsetJsc, color: TEAL, axis: 'R' },
          { values: dInsetIsc, color: LILAC, axis: 'P' }]}
        axes={[{ id: 'L', side: 'left', dom: [42.5, 262], ticks: [50, 150, 250], color: ORANGE, width: 16 },
          { id: 'R', side: 'right', dom: [-0.1, 7.67], ticks: [0, 3, 6], color: TEAL, width: 11 },
          { id: 'P', side: 'right', dom: [-0.08, 2.12], ticks: [0, 1, 2], color: LILAC, width: 14 }]} />

      <Wave box={boxE} xDom={[0, 401]} xTicks={[0, 50, 100, 150, 200, 250, 300, 350, 400]} lDom={[-27, 258]}
        lTicks={[50, 150, 250]} rDom={[-12, 0.1]} rTicks={[0, -3, -6, -9, -12]} traces={eTraces} split={200} />
      <Bars box={boxF} names={freqs} voc={fVoc} jsc={fJsc} lDom={[0, 354]} lTicks={[0, 100, 200, 300]} rDom={[0, 20]}
        rTicks={[0, 5, 10, 15, 20]} barSize={9.5} xFont={10} />
      <Inset box={boxFi} names={freqs} pad={{ left: 3.3, right: 5 }}
        lines={[{ values: fInsetVoc, color: ORANGE, axis: 'L' }, { values: fInsetJsc, color: TEAL, axis: 'R' }]}
        axes={[{ id: 'L', side: 'left', dom: [-6, 247], ticks: [0, 100, 200], color: ORANGE, width: 18 },
          { id: 'R', side: 'right', dom: [-1.45, 15.2], ticks: [0, 5, 10, 15], color: TEAL, width: 14 }]} />

      <Wave box={boxG} xDom={[0, 1200]} xTicks={[0, 400, 800, 1200]} lDom={[-19.5, 182]} lTicks={[10, 70, 130]}
        rDom={[-12, 0.1]} rTicks={[0, -3, -6, -9, -12]} traces={gTraces} split={600} />
      <Bars box={boxH} names={slowFreqs} voc={hVoc} jsc={hJsc} lDom={[0, 221]} lTicks={[0, 100, 200]} rDom={[0, 10]}
        rTicks={[0, 5, 10]} barSize={15.5} pad={{ left: 13, right: 10 }} xFont={10} />
      <Inset box={boxHi} names={slowFreqs} pad={{ left: 12.3, right: 10.7 }}
        lines={[{ values: hInsetVoc, color: ORANGE, axis: 'L' }, { values: hInsetJsc, color: TEAL, axis: 'R' }]}
        axes={[{ id: 'L', side: 'left', dom: [-4.7, 265.6], ticks: [0, 100, 200], color: ORANGE, width: 18 },
          { id: 'R', side: 'right', dom: [-1.4, 16.8], ticks: [0, 5, 10, 15], color: TEAL, width: 14 }]} />

      <svg width={700} height={785} style={{ position: 'absolute', left: 0, top: 0, pointerEvents: 'none' }}>
        {[boxA, boxB, boxC, boxD, boxE, boxF, boxG, boxH].map((b, i) => frameRect(b, 'f' + i))}
        {frameRect(boxCi, 'ci')}
        {hLine(boxBi.l, boxBi.r, boxBi.t, 'bt')}{hLine(boxBi.l, boxBi.r, boxBi.b, 'bb')}
        {hLine(440.7, boxDi.r, boxDi.t, 'dt')}{hLine(440.7, boxDi.r, boxDi.b, 'db')}
        <line x1={440.7} x2={440.7} y1={boxDi.t} y2={boxDi.b} stroke="#000" strokeWidth={1.2} />
        {hLine(boxFi.l, boxFi.r, boxFi.t, 'ft')}{hLine(boxFi.l, boxFi.r, boxFi.b, 'fb')}
        {hLine(boxHi.l, boxHi.r, boxHi.t, 'ht')}{hLine(boxHi.l, boxHi.r, boxHi.b, 'hb')}

        {dashBox(594.3, 16.7, 9.7, 27.6, 'db1')}
        {dashBox(458.3, 226.7, 6.7, 15, 'db2')}
        {dashBox(608.3, 226.7, 6.7, 15, 'db3')}
        {dashBox(596.7, 412.7, 10.6, 16.6, 'db4')}
        {dashBox(633.3, 605, 12.7, 16.7, 'db5')}

        <g fontSize={9.5} fontWeight={700} fill="#000">
          <text x={553} y={60.5}>(157V, 5.08mA/m²)</text>
          <text x={460} y={248.5} fontSize={9}>(6.23mA/m²)</text>
          <text x={535} y={231.5} fontSize={8.5}>(210.01V, 1.80uA)</text>
          <text x={549.3} y={456.8}>(210V, 10.95mA/m²)</text>
          <text x={565.7} y={641.8}>(132V, 4.81mA/m²)</text>
        </g>

        <Notes x={62} ys={[31.5, 43, 54, 65]} lines={['Concentration : 20 wt %', 'effective area : 1.2cm * 1.2cm',
          'mechanical frequency : 0.5Hz', 'motion speed : 4cm/s']} />
        <Notes x={215} ys={[273.5, 284.5, 295]} lines={['Concentration :  20 wt%', 'mechanical frequency : 0.5Hz',
          'film thickness : 70um']} />
        <Notes x={58.3} ys={[421, 433.3, 445]} lines={['Concentration : 20 wt%', 'effective area : 1.2cm * 1.2cm',
          'film thickness : 70um']} />
        <Notes x={59.3} ys={[616, 628.3, 640.5]} lines={['Concentration : 20 wt%', 'effective area : 1.2cm * 1.2cm',
          'motion speed : 4cm/s']} />

        {[PINK, ORANGE, YELLOW].map((c, i) => (
          <LegendRow key={'la' + i} x={215} y={118 + i * 12.2} w={21.7} color={c} label={aLabels[i]} tx={245} />
        ))}
        {[GREEN, TEAL].map((c, i) => (
          <LegendRow key={'lb' + i} x={285} y={132.5 + i * 12} w={21.7} color={c} label={aLabels[i + 3]} tx={316} />
        ))}
        {[PINK, ORANGE, YELLOW, GREEN, TEAL].map((c, i) => (
          <LegendRow key={'lc' + i} x={61} y={220 + i * 12.7} w={21.7} color={c} label={cLabels[i]} tx={91.7} />
        ))}
        {eColors.slice(0, 6).map((c, i) => (
          <LegendRow key={'le' + i} x={208.3} y={484.3 + i * 11.3} w={21.7} color={c} label={eLabels[i]} tx={233.3} />
        ))}
        {eColors.slice(6).map((c, i) => (
          <LegendRow key={'lf' + i} x={265} y={518.3 + i * 11.2} w={16.7} color={c} label={eLabels[i + 6]} tx={285} />
        ))}
        {gColors.map((c, i) => (
          <LegendRow key={'lg' + i} x={212.7} y={672.3 + i * 11.7} w={20.6} color={c} label={gLabels[i]} tx={240} />
        ))}

        <BarKey x={445.7} y={76.7} w={21} h={10.7} grad="gradVoc" s="V" sub="oc" tx={473} />
        <BarKey x={445.7} y={91.7} w={21} h={10.7} grad="gradJsc" s="J" sub="sc" tx={473} />
        <BarKey x={470} y={281} w={10} h={9.5} grad="gradVoc" s="V" sub="oc" tx={482.7} fs={9.5} />
        <BarKey x={501.7} y={281} w={10} h={9.5} grad="gradJsc" s="J" sub="sc" tx={514} fs={9.5} />
        <BarKey x={531.7} y={281} w={10} h={9.5} grad="gradIsc" s="I" sub="sc" tx={544} fs={9.5} />
        <BarKey x={455} y={469.3} w={20} h={10.7} grad="gradVoc" s="V" sub="oc" tx={478} />
        <BarKey x={455} y={484.3} w={20} h={10.7} grad="gradJsc" s="J" sub="sc" tx={478} />
        <BarKey x={456.7} y={664} w={21.6} h={10.3} grad="gradVoc" s="V" sub="oc" tx={482} />
        <BarKey x={456.7} y={678.3} w={21.6} h={10.3} grad="gradJsc" s="J" sub="sc" tx={482} />

        <Arrow x1={61} x2={207} y={164} cx={133.3} label="Open-Circuit Voltage" />
        <Arrow x1={213.3} x2={356.7} y={164} cx={286.7} label="Short-Current Density" />
        <Arrow x1={61.7} x2={205} y={359} cx={133.3} label="Open-Circuit Voltage" />
        <Arrow x1={211.7} x2={356.7} y={359} cx={286.7} label="Short-Current Density" />
        <Arrow x1={56.7} x2={201.7} y={554.3} cx={130} label="Open-Circuit Voltage" />
        <Arrow x1={206.7} x2={351.7} y={554.3} cx={280} label="Short-Current Density" />
        <Arrow x1={58.3} x2={203.3} y={750} cx={131.7} label="Open-Circuit Voltage" />
        <Arrow x1={208.3} x2={353.3} y={750} cx={283.3} label="Short-Current Density" />

        <VTitle x={31.5} y={100}>{VOC_TITLE}</VTitle>
        <VTitle x={391.5} y={97}>{JSC_TITLE}</VTitle>
        <VTitle x={411.8} y={90}>{VOC_TITLE}</VTitle>
        <VTitle x={695} y={92}>{JSC_TITLE}</VTitle>
        <VTitle x={33.5} y={282}>{VOC_TITLE}</VTitle>
        <VTitle x={391.8} y={285}>{JSC_TITLE}</VTitle>
        <VTitle x={411.8} y={291.7}>{VOC_TITLE}</VTitle>
        <VTitle x={662.8} y={285.5}>{JSC_TITLE}</VTitle>
        <VTitle x={692.8} y={293.5}><Sym pre="Short-Circuit, " s="I" sub="sc" post=" (uA)" fs={9.5} /></VTitle>
        <text x={353} y={321.5} transform="rotate(-90 353 321.5)" textAnchor="middle" fontSize={8.5} fontWeight={700}>
          <Sym pre="Short-Circuit, " s="I" sub="sc" post=" (uA)" fs={8.5} />
        </text>
        <VTitle x={30.2} y={481}>{VOC_TITLE}</VTitle>
        <VTitle x={388.5} y={480}>{JSC_TITLE}</VTitle>
        <VTitle x={411.8} y={483}>{VOC_TITLE}</VTitle>
        <VTitle x={695} y={483}>{JSC_TITLE}</VTitle>
        <VTitle x={28.5} y={673}>{VOC_TITLE}</VTitle>
        <VTitle x={391.8} y={677}>{JSC_TITLE}</VTitle>
        <VTitle x={411.8} y={675}>{VOC_TITLE}</VTitle>
        <VTitle x={693.5} y={679}>{JSC_TITLE}</VTitle>

        <HTitle x={210.5} y={196.5}><Sym pre="Time, " s="t" post=" (s)" fs={9.5} /></HTitle>
        <HTitle x={565} y={203.5}><Sym pre="Film Thickness, " s="d" post=" (um)" fs={9.5} /></HTitle>
        <HTitle x={218} y={391}><Sym pre="Time, " s="t" post=" (s)" fs={9.5} /></HTitle>
        <text x={272} y={350.5} textAnchor="middle" fontSize={8} fontWeight={700}>
          <Sym pre="Time, " s="t" post=" (s)" fs={8} />
        </text>
        <HTitle x={560} y={395}><Sym pre="Contact Area, " s="S" post=" (cm²)" fs={9.5} /></HTitle>
        <HTitle x={208} y={586}><Sym pre="Time, " s="t" post=" (s)" fs={9.5} /></HTitle>
        <HTitle x={565} y={587}><Sym pre="Frequency, " s="f" post=" (Hz)" fs={9.5} /></HTitle>
        <HTitle x={210} y={781}><Sym pre="Time, " s="t" post=" (s)" fs={9.5} /></HTitle>
        <HTitle x={565} y={781}><Sym pre="Frequency, " s="f" post=" (Hz)" fs={9.5} /></HTitle>

        <g fontSize={15} fontWeight={700} fill="#000">
          <text x={2} y={14}>(a)</text>
          <text x={393} y={15}>(b)</text>
          <text x={2} y={211}>(c)</text>
          <text x={393} y={211}>(d)</text>
          <text x={2} y={405.5}>(e)</text>
          <text x={393} y={407}>(f)</text>
          <text x={2} y={600.5}>(g)</text>
          <text x={393} y={599}>(h)</text>
        </g>
      </svg>
    </div>
  );
}
